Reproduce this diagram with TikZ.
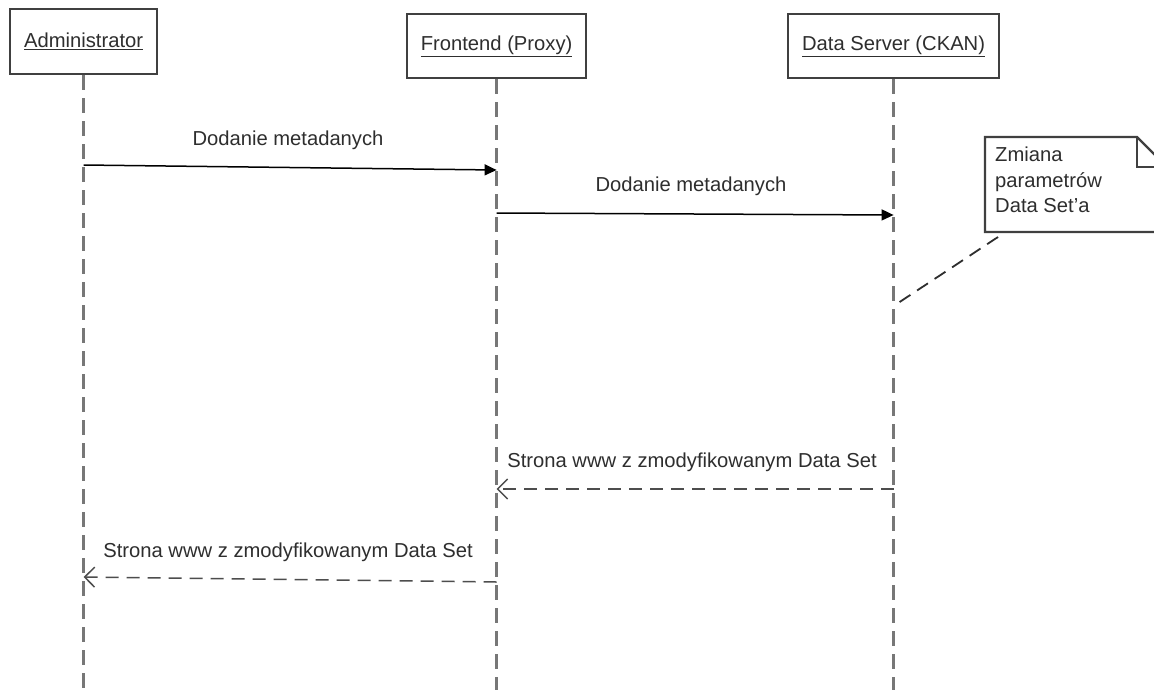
\documentclass[tikz,border=0pt]{standalone}
\usepackage{fontspec}
\setmainfont{Liberation Sans}
\usetikzlibrary{arrows.meta}
\definecolor{ink}{HTML}{2E2E2E}
\definecolor{frame}{HTML}{404040}
\definecolor{life}{HTML}{777777}
\begin{document}
\begin{tikzpicture}[x=1pt,y=-1pt,
  font=\fontsize{20.2}{25.5}\selectfont, text=ink,
  actor/.style={draw=frame, line width=2.2pt, inner sep=0pt, anchor=north west},
  lifeline/.style={draw=life, line width=2.4pt, dash pattern=on 15pt off 8pt},
  callmsg/.style={draw=black, line width=1.5pt, -{Triangle[length=12pt,width=11pt]}},
  replymsg/.style={draw=ink!85, line width=1.5pt, dash pattern=on 13pt off 8pt,
     -{Straight Barb[length=10pt,width=20pt,line width=1.5pt]}},
  msglabel/.style={text=ink, inner sep=0pt},
  notebox/.style={draw=frame, line width=2.2pt, fill=white},
  notelink/.style={draw=ink, line width=1.8pt, dash pattern=on 13pt off 8pt}]
\clip (0,0) rectangle (1154,689);
\fill[white] (0,0) rectangle (1154,689);

% participants
\node[actor, minimum width=147pt, minimum height=65pt] (adm) at (9,8) {\underline{Administrator}};
\node[actor, minimum width=179pt, minimum height=64pt] (fe) at (406,13) {\underline{Frontend (Proxy)}};
\node[actor, minimum width=211pt, minimum height=64pt] (ds) at (787,13) {\underline{Data Server (CKAN)}};

% lifeline ends
\coordinate (admEnd) at (adm.south |- 0,700);
\coordinate (feEnd) at (fe.south |- 0,700);
\coordinate (dsEnd) at (ds.south |- 0,700);
\draw[lifeline] (adm.south) -- (admEnd);
\draw[lifeline] (fe.south) -- (feEnd);
\draw[lifeline] (ds.south) -- (dsEnd);

% message anchor points on the lifelines
\coordinate (m1a) at (adm.south |- 0,165);
\coordinate (m1b) at (fe.south |- 0,170);
\coordinate (m2a) at (fe.south |- 0,213);
\coordinate (m2b) at (ds.south |- 0,215);
\coordinate (m3a) at (ds.south |- 0,489);
\coordinate (m3b) at (fe.south |- 0,489);
\coordinate (m4a) at (fe.south |- 0,582);
\coordinate (m4b) at (adm.south |- 0,577);
\coordinate (noteTip) at (ds.south |- 0,306);

% messages
\draw[callmsg] (m1a) -- (m1b);
\node[msglabel] (l1) at (288,140) {Dodanie metadanych};
\draw[callmsg] (m2a) -- (m2b);
\node[msglabel] (l2) at (691,186) {Dodanie metadanych};
\draw[replymsg] (m3a) -- (m3b);
\node[msglabel] (l3) at (692,462) {Strona www z zmodyfikowanym Data Set};
\draw[replymsg] (m4a) -- (m4b);
\node[msglabel] (l4) at (288,552) {Strona www z zmodyfikowanym Data Set};

% note with folded corner
\draw[notebox] (985,137) -- (1137,137) -- (1170,170) -- (1170,232) -- (985,232) -- cycle;
\draw[draw=frame, line width=2.2pt] (1137,137) -- (1137,167) -- (1170,167);
\node[anchor=north west, align=left, inner sep=0pt, text=ink] (note) at (995,147)
  {Zmiana\\parametrów\\Data Set'a};
\coordinate (noteCorner) at (998,237);
\draw[notelink] (noteCorner) -- (noteTip);
\end{tikzpicture}
\end{document}
